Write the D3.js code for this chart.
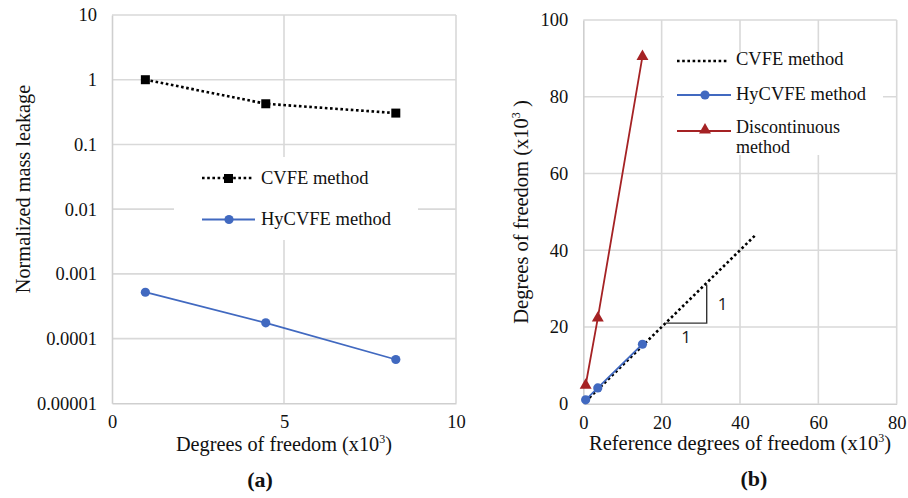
<!DOCTYPE html>
<html>
<head>
<meta charset="utf-8">
<script src="https://cdn.jsdelivr.net/npm/d3@7/dist/d3.min.js"></script>
<style>
  html, body { margin: 0; padding: 0; background: #fff; }
  svg { display: block; }
  text { font-family: "Liberation Serif", "Times New Roman", serif; fill: #111; }
  text.sans { font-family: "Open Sans", "Liberation Sans", sans-serif; fill: #1a1a1a; }
</style>
</head>
<body>
<svg id="chart" width="908" height="498"></svg>
<script>
// ---- Panel (a): normalized mass leakage vs degrees of freedom ----
const dofA = [0.97, 4.47, 8.25];
const cvfeLeakage = [1.0, 0.425, 0.305];
const hycvfeLeakage = [5.2e-4, 1.75e-4, 4.75e-5];
const leakTicks = [10, 1, 0.1, 0.01, 0.001, 0.0001, 0.00001];
const leakTickLabels = ["10", "1", "0.1", "0.01", "0.001", "0.0001", "0.00001"];
const dofTicksA = [0, 5, 10];

// ---- Panel (b): degrees of freedom vs reference degrees of freedom ----
const refDof = [0.6, 3.7, 15.1];
const hycvfeDof = [1.0, 4.1, 15.5];
const discDof = [4.8, 22.3, 90.5];
const cvfeRef = [0.6, 3.7, 15.1, 44];
const cvfeDof = [0.6, 3.7, 15.1, 44];
const slopeTri = [[21, 21], [31.5, 21], [31.5, 31]];
const dofTicksBy = [0, 20, 40, 60, 80, 100];
const dofTicksBx = [0, 20, 40, 60, 80];

const seriesNames = ["CVFE method", "HyCVFE method", "Discontinuous method"];

const BLUE = "#4169c0";
const RED = "#a52224";
const GRID = "#d9d9d9";
const AXIS = "#cfcfcf";
const DOT = "2.6 2.6";

const svg = d3.select("#chart");

// ================= Panel (a) =================
const xA = d3.scaleLinear().domain([0, 10]).range([112, 456]);
const yA = d3.scaleLog().domain([1e-5, 10]).range([403.3, 15]);
const gA = svg.append("g");

// horizontal gridlines
gA.append("g").selectAll("line").data(leakTicks.filter(d => d > 1e-5)).join("line")
  .attr("x1", xA(0)).attr("x2", xA(10))
  .attr("y1", d => yA(d)).attr("y2", d => yA(d))
  .attr("stroke", GRID).attr("stroke-width", 1.6);
// vertical gridlines
gA.append("g").selectAll("line").data(dofTicksA.filter(d => d > 0)).join("line")
  .attr("x1", d => xA(d)).attr("x2", d => xA(d))
  .attr("y1", yA(10)).attr("y2", yA(1e-5))
  .attr("stroke", GRID).attr("stroke-width", 1.6);

// axes
const axisYA = d3.axisLeft(yA).tickValues(leakTicks)
  .tickFormat((d, i) => leakTickLabels[i]).tickSize(0).tickPadding(15);
const gyA = gA.append("g").attr("transform", `translate(${xA(0)},0)`).call(axisYA);
const axisXA = d3.axisBottom(xA).tickValues(dofTicksA).tickSize(0).tickPadding(12)
  .tickFormat(d3.format("d"));
const gxA = gA.append("g").attr("transform", `translate(0,${yA(1e-5)})`).call(axisXA);
[gyA, gxA].forEach(g => {
  g.select(".domain").attr("stroke", AXIS).attr("stroke-width", 1.6);
  g.selectAll("text").attr("font-size", 18.5).attr("fill", "#111");
});

// legend background
gA.append("rect").attr("x", 174).attr("y", 157).attr("width", 244).attr("height", 83).attr("fill", "#fff");

// CVFE series (dotted, square markers)
const lineA = d3.line().x(d => xA(d[0])).y(d => yA(d[1]));
const cvfeA = dofA.map((d, i) => [d, cvfeLeakage[i]]);
const hyA = dofA.map((d, i) => [d, hycvfeLeakage[i]]);
gA.append("path").attr("d", lineA(cvfeA)).attr("fill", "none")
  .attr("stroke", "#000").attr("stroke-width", 2.6).attr("stroke-dasharray", DOT);
gA.append("g").selectAll("rect").data(cvfeA).join("rect")
  .attr("x", d => xA(d[0]) - 4.5).attr("y", d => yA(d[1]) - 4.5)
  .attr("width", 9).attr("height", 9).attr("fill", "#000");
// HyCVFE series (solid blue, circles)
gA.append("path").attr("d", lineA(hyA)).attr("fill", "none")
  .attr("stroke", BLUE).attr("stroke-width", 1.8);
gA.append("g").selectAll("circle").data(hyA).join("circle")
  .attr("cx", d => xA(d[0])).attr("cy", d => yA(d[1])).attr("r", 4.6).attr("fill", BLUE);

// legend entries
const legA = gA.append("g");
legA.append("line").attr("x1", 202).attr("x2", 254).attr("y1", 178).attr("y2", 178)
  .attr("stroke", "#000").attr("stroke-width", 2.6).attr("stroke-dasharray", DOT);
legA.append("rect").attr("x", 224).attr("y", 174).attr("width", 9).attr("height", 9).attr("fill", "#000");
legA.append("text").attr("x", 261).attr("y", 183.5).attr("font-size", 18.5).text(seriesNames[0]);
legA.append("line").attr("x1", 202).attr("x2", 255).attr("y1", 219.5).attr("y2", 219.5)
  .attr("stroke", BLUE).attr("stroke-width", 1.8);
legA.append("circle").attr("cx", 229).attr("cy", 219.5).attr("r", 4.6).attr("fill", BLUE);
legA.append("text").attr("x", 261).attr("y", 225).attr("font-size", 18.5).text(seriesNames[1]);

// titles
gA.append("text").attr("transform", "translate(30,189) rotate(-90)")
  .attr("text-anchor", "middle").attr("font-size", 20.3).text("Normalized mass leakage");
const xtA = gA.append("text").attr("x", 284).attr("y", 451).attr("text-anchor", "middle").attr("font-size", 20.3);
xtA.append("tspan").text("Degrees of freedom (x10");
xtA.append("tspan").attr("font-size", 12).attr("dy", -8).text("3");
xtA.append("tspan").attr("dy", 8).text(")");
gA.append("text").attr("x", 260).attr("y", 487).attr("text-anchor", "middle")
  .attr("font-size", 22).attr("font-weight", "bold").text("(a)");

// ================= Panel (b) =================
const xB = d3.scaleLinear().domain([0, 80]).range([583.3, 896.7]);
const yB = d3.scaleLinear().domain([0, 100]).range([403.7, 20]);
const gB = svg.append("g");

gB.append("g").selectAll("line").data(dofTicksBy.filter(d => d > 0)).join("line")
  .attr("x1", xB(0)).attr("x2", xB(80))
  .attr("y1", d => yB(d)).attr("y2", d => yB(d))
  .attr("stroke", GRID).attr("stroke-width", 1.6);
gB.append("g").selectAll("line").data(dofTicksBx.filter(d => d > 0)).join("line")
  .attr("x1", d => xB(d)).attr("x2", d => xB(d))
  .attr("y1", yB(100)).attr("y2", yB(0))
  .attr("stroke", GRID).attr("stroke-width", 1.6);

const axisYB = d3.axisLeft(yB).tickValues(dofTicksBy).tickSize(0).tickPadding(15).tickFormat(d3.format("d"));
const gyB = gB.append("g").attr("transform", `translate(${xB(0)},0)`).call(axisYB);
const axisXB = d3.axisBottom(xB).tickValues(dofTicksBx).tickSize(0).tickPadding(12).tickFormat(d3.format("d"));
const gxB = gB.append("g").attr("transform", `translate(0,${yB(0)})`).call(axisXB);
[gyB, gxB].forEach(g => {
  g.select(".domain").attr("stroke", AXIS).attr("stroke-width", 1.6);
  g.selectAll("text").attr("font-size", 18.5).attr("fill", "#111");
});

// legend background
gB.append("rect").attr("x", 664).attr("y", 52).attr("width", 219).attr("height", 103).attr("fill", "#fff");

const lineB = d3.line().x(d => xB(d[0])).y(d => yB(d[1]));
const cvfeB = cvfeRef.map((d, i) => [d, cvfeDof[i]]);
const hyB = refDof.map((d, i) => [d, hycvfeDof[i]]);
const discB = refDof.map((d, i) => [d, discDof[i]]);

// CVFE reference line (1:1)
gB.append("path").attr("d", lineB(cvfeB)).attr("fill", "none")
  .attr("stroke", "#000").attr("stroke-width", 2.6).attr("stroke-dasharray", DOT);
// HyCVFE
gB.append("path").attr("d", lineB(hyB)).attr("fill", "none")
  .attr("stroke", BLUE).attr("stroke-width", 1.8);
gB.append("g").selectAll("circle").data(hyB).join("circle")
  .attr("cx", d => xB(d[0])).attr("cy", d => yB(d[1])).attr("r", 4.6).attr("fill", BLUE);
// Discontinuous
gB.append("path").attr("d", lineB(discB)).attr("fill", "none")
  .attr("stroke", RED).attr("stroke-width", 1.8);
const tri = d3.symbol().type(d3.symbolTriangle).size(62);
gB.append("g").selectAll("path").data(discB).join("path")
  .attr("transform", d => `translate(${xB(d[0])},${yB(d[1])})`)
  .attr("d", tri).attr("fill", RED);

// slope triangle
gB.append("path").attr("d", d3.line().x(d => xB(d[0])).y(d => yB(d[1]))(slopeTri))
  .attr("fill", "none").attr("stroke", "#333").attr("stroke-width", 1.4);
gB.append("text").attr("class", "sans")
  .attr("x", xB((slopeTri[0][0] + slopeTri[1][0]) / 2)).attr("y", yB(slopeTri[0][1]) + 20)
  .attr("text-anchor", "middle").attr("font-size", 17).text("1");
gB.append("text").attr("class", "sans")
  .attr("x", xB(slopeTri[1][0]) + 11).attr("y", yB((slopeTri[1][1] + slopeTri[2][1]) / 2) + 6)
  .attr("text-anchor", "start").attr("font-size", 17).text("1");

// legend entries
const legB = gB.append("g");
legB.append("line").attr("x1", 677).attr("x2", 729).attr("y1", 61).attr("y2", 61)
  .attr("stroke", "#000").attr("stroke-width", 2.6).attr("stroke-dasharray", DOT);
legB.append("text").attr("x", 736).attr("y", 64.5).attr("font-size", 18.5).text(seriesNames[0]);
legB.append("line").attr("x1", 677).attr("x2", 731).attr("y1", 95).attr("y2", 95)
  .attr("stroke", BLUE).attr("stroke-width", 1.8);
legB.append("circle").attr("cx", 705).attr("cy", 95).attr("r", 4.6).attr("fill", BLUE);
legB.append("text").attr("x", 736).attr("y", 99.5).attr("font-size", 18.5).text(seriesNames[1]);
legB.append("line").attr("x1", 677).attr("x2", 731).attr("y1", 131).attr("y2", 131)
  .attr("stroke", RED).attr("stroke-width", 1.8);
legB.append("path").attr("transform", "translate(705,130)").attr("d", tri).attr("fill", RED);
const discLabel = seriesNames[2].split(" ");
legB.append("text").attr("x", 736).attr("y", 132.5).attr("font-size", 18).text(discLabel[0]);
legB.append("text").attr("x", 736).attr("y", 152.5).attr("font-size", 18).text(discLabel[1]);

// titles
const ytB = gB.append("text").attr("transform", "translate(528,212) rotate(-90)")
  .attr("text-anchor", "middle").attr("font-size", 20.5);
ytB.append("tspan").text("Degrees of freedom  (x10");
ytB.append("tspan").attr("font-size", 12).attr("dy", -8).text("3");
ytB.append("tspan").attr("dy", 8).text(" )");
const xtB = gB.append("text").attr("x", 740).attr("y", 450).attr("text-anchor", "middle").attr("font-size", 20.5);
xtB.append("tspan").text("Reference degrees of freedom (x10");
xtB.append("tspan").attr("font-size", 12).attr("dy", -8).text("3");
xtB.append("tspan").attr("dy", 8).text(")");
gB.append("text").attr("x", 754).attr("y", 486).attr("text-anchor", "middle")
  .attr("font-size", 22).attr("font-weight", "bold").text("(b)");
</script>
</body>
</html>
